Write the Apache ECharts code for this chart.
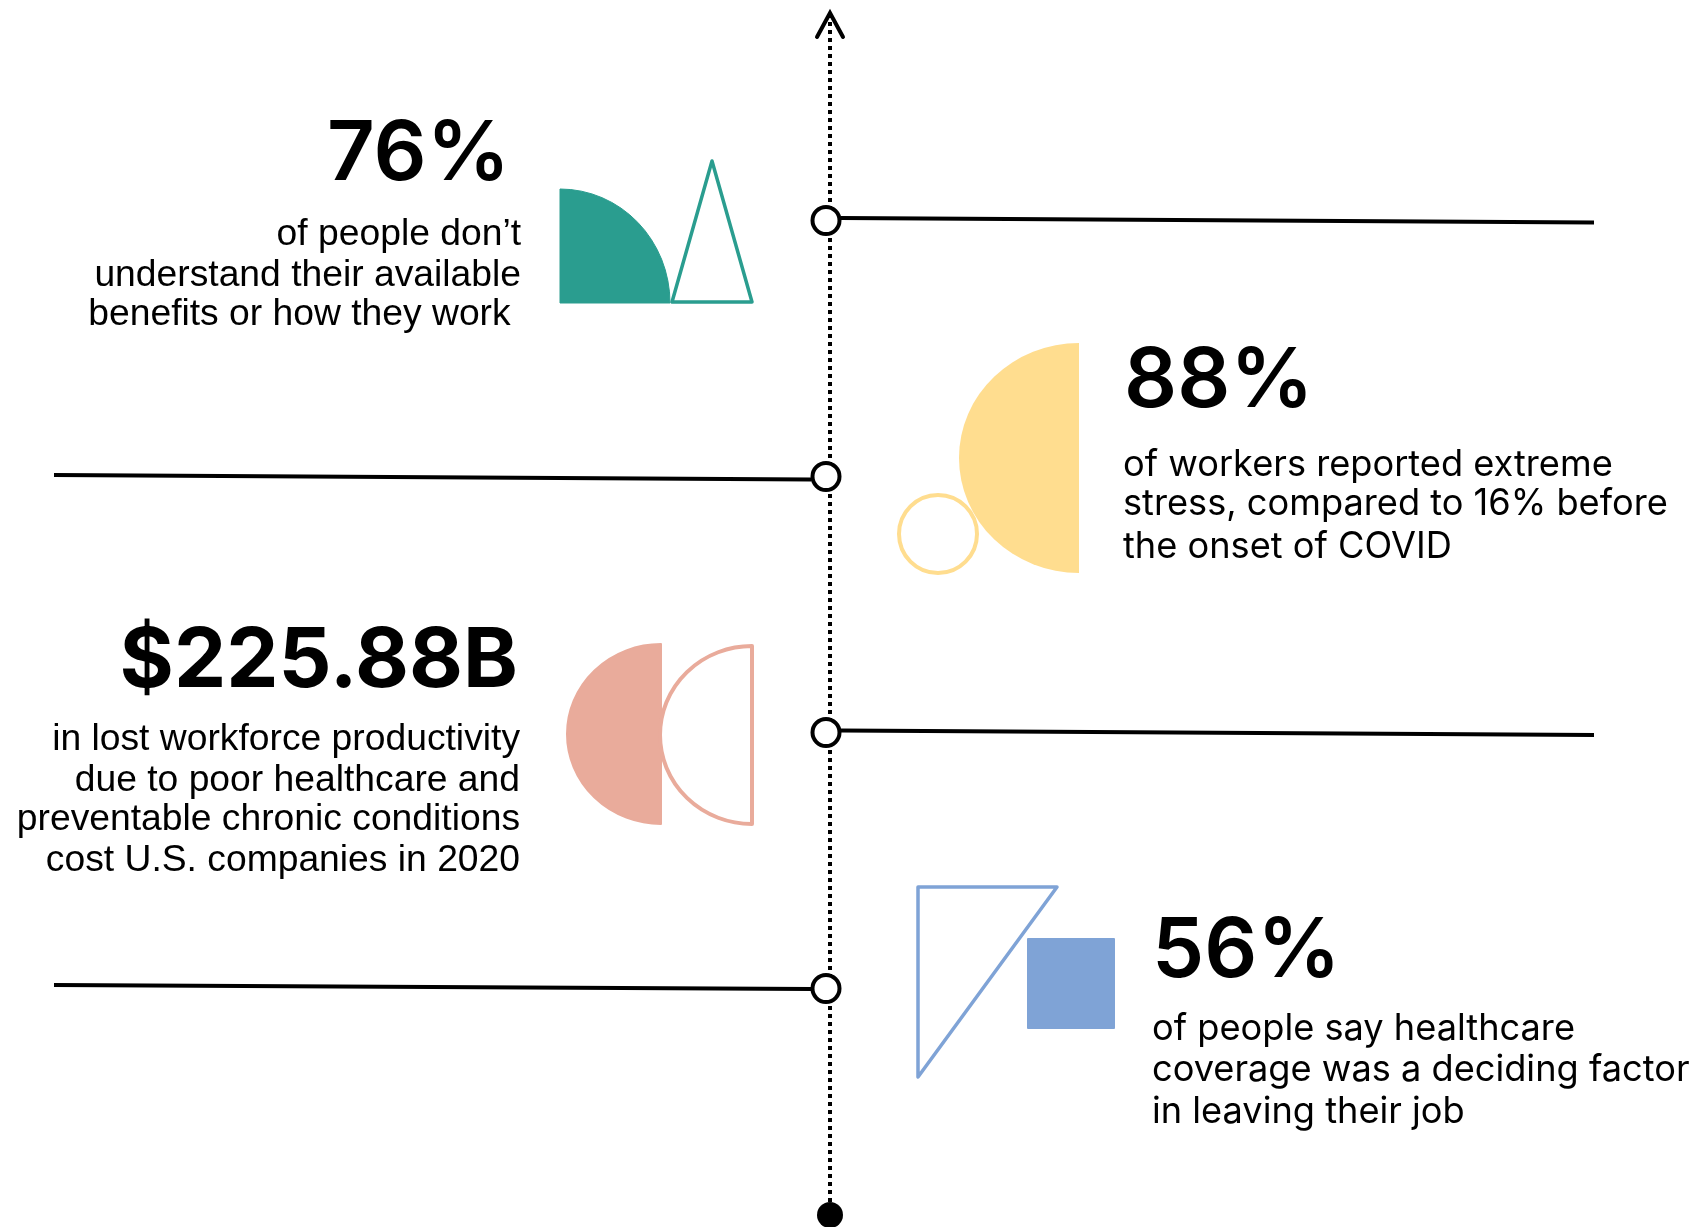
<!DOCTYPE html>
<html>
<head>
<meta charset="utf-8">
<title>Workforce health stats</title>
<script src="https://cdn.jsdelivr.net/npm/echarts@6/dist/echarts.min.js"></script>
<style>
  html, body { margin: 0; padding: 0; background: #fff; }
  #mainChart { width: 1697px; height: 1227px; }
</style>
</head>
<body>
<div id="mainChart"></div>
<script>
// the data
var stats = ['76%', '88%', '$225.88B', '56%'];
var captions = [
    ['of people don’t', 'understand their available', 'benefits or how they work '],
    ['of workers reported extreme', 'stress, compared to 16% before', 'the onset of COVID'],
    ['in lost workforce productivity', 'due to poor healthcare and', 'preventable chronic conditions', 'cost U.S. companies in 2020'],
    ['of people say healthcare', 'coverage was a deciding factor', 'in leaving their job']
];

var TEAL = '#2a9d8f', YELLOW = '#ffdd8f', PINK = '#e9ab9b', BLUE = '#7fa3d6';
var LEFT_FONT = '"Liberation Sans", Arial, sans-serif';
var RIGHT_FONT = 'Inter, "Noto Sans", sans-serif';

// layout per row, offsets are from the row centre
var layouts = [
    { line: [841, -2.5, 1594, 2], statX: 510, statY: -65, statWeight: 600, align: 'right', capX: 521, capY: [27, 68, 107], capSize: 37.25, capFont: LEFT_FONT },
    { line: [54, -1.5, 811, 3], statX: 1124, statY: -94, statWeight: 600, align: 'left', capX: 1123, capY: [1, 40, 83], capSize: 36.2, capFont: RIGHT_FONT },
    { line: [841, -2, 1594, 2.5], statX: 518, statY: -70, statWeight: 700, align: 'right', capX: 520, capY: [20, 61, 100, 141], capSize: 37.25, capFont: LEFT_FONT },
    { line: [54, -3.5, 811, 0.5], statX: 1152, statY: -36, statWeight: 600, align: 'left', capX: 1152, capY: [53, 94, 136], capSize: 36.2, capFont: RIGHT_FONT }
];

function halfDisc(flatX, cy, rx, ry, side) {
    // side 1 bulges right, -1 bulges left
    var sweep = side > 0 ? 1 : 0;
    return 'M' + flatX + ' ' + (cy + ry) + 'L' + flatX + ' ' + (cy - ry) +
        'A' + rx + ' ' + ry + ' 0 0 ' + sweep + ' ' + flatX + ' ' + (cy + ry) + 'Z';
}

function pathEl(d, fill, stroke, width) {
    return {
        type: 'path',
        shape: { pathData: d },
        style: { fill: fill, stroke: stroke, lineWidth: width, lineJoin: 'round' }
    };
}

var decor = [
    [
        pathEl('M560 303L560 189A110 114 0 0 1 670 303Z', TEAL, TEAL, 1),
        pathEl('M712 161L672 302L752 302Z', '#fff', TEAL, 3.5)
    ],
    [
        pathEl(halfDisc(1079, 458, 120, 115, -1), YELLOW, YELLOW, 0),
        { type: 'circle', shape: { cx: 938, cy: 534, r: 39 }, style: { fill: '#fff', stroke: YELLOW, lineWidth: 4 } }
    ],
    [
        pathEl(halfDisc(661, 734, 94, 90, -1), PINK, PINK, 2),
        pathEl(halfDisc(752, 735, 92, 89, -1), '#fff', PINK, 4)
    ],
    [
        pathEl('M918 887L1057 887L918 1077Z', '#fff', BLUE, 3.5),
        { type: 'rect', shape: { x: 1027, y: 938, width: 88, height: 91, r: 1 }, style: { fill: BLUE } }
    ]
];

function renderRow(params, api) {
    var i = api.value(1);
    var y = api.coord([0, i])[1];
    var lay = layouts[i];
    var children = [{
        type: 'line',
        shape: { x1: lay.line[0], y1: y + lay.line[1], x2: lay.line[2], y2: y + lay.line[3] },
        style: { stroke: '#000', lineWidth: 4 }
    }].concat(decor[i]);

    children.push({
        type: 'text',
        style: {
            text: stats[i], x: lay.statX, y: y + lay.statY,
            align: lay.align, verticalAlign: 'middle',
            fill: '#000', font: lay.statWeight + ' 83px ' + RIGHT_FONT
        }
    });
    captions[i].forEach(function (txt, k) {
        children.push({
            type: 'text',
            style: {
                text: txt, x: lay.capX, y: y + lay.capY[k] - lay.capSize * 0.35,
                align: lay.align, verticalAlign: 'middle',
                fill: '#000', font: '400 ' + lay.capSize + 'px ' + lay.capFont
            }
        });
    });
    return { type: 'group', children: children };
}

var myChart = echarts.init(document.getElementById('mainChart'));

myChart.setOption({
    animation: false,
    backgroundColor: '#fff',
    grid: { left: 0, right: 0, top: 92.5, bottom: 110.5 },
    xAxis: { type: 'value', min: 0, max: 1697, show: false },
    yAxis: { type: 'category', inverse: true, data: stats, show: false },
    graphic: [
        { type: 'line', z: 1, shape: { x1: 830, y1: 14, x2: 830, y2: 1204 }, style: { stroke: '#000', lineWidth: 4, lineDash: [4, 4] } },
        { type: 'polyline', z: 1, shape: { points: [[817, 37], [830, 13], [843, 37]] }, style: { stroke: '#000', lineWidth: 4, fill: null, lineCap: 'round' } },
        { type: 'circle', z: 1, shape: { cx: 830, cy: 1215, r: 13 }, style: { fill: '#000' } }
    ],
    series: [{
        type: 'custom',
        z: 3,
        silent: true,
        clip: false,
        renderItem: renderRow,
        data: stats.map(function (s, i) { return [0, i]; })
    }, {
        // the ring on the timeline for each row
        type: 'scatter',
        z: 5,
        silent: true,
        symbolSize: 27,
        itemStyle: { color: '#fff', borderColor: '#000', borderWidth: 4, opacity: 1 },
        data: stats.map(function (s, i) { return [826, i]; })
    }]
});
</script>
</body>
</html>
